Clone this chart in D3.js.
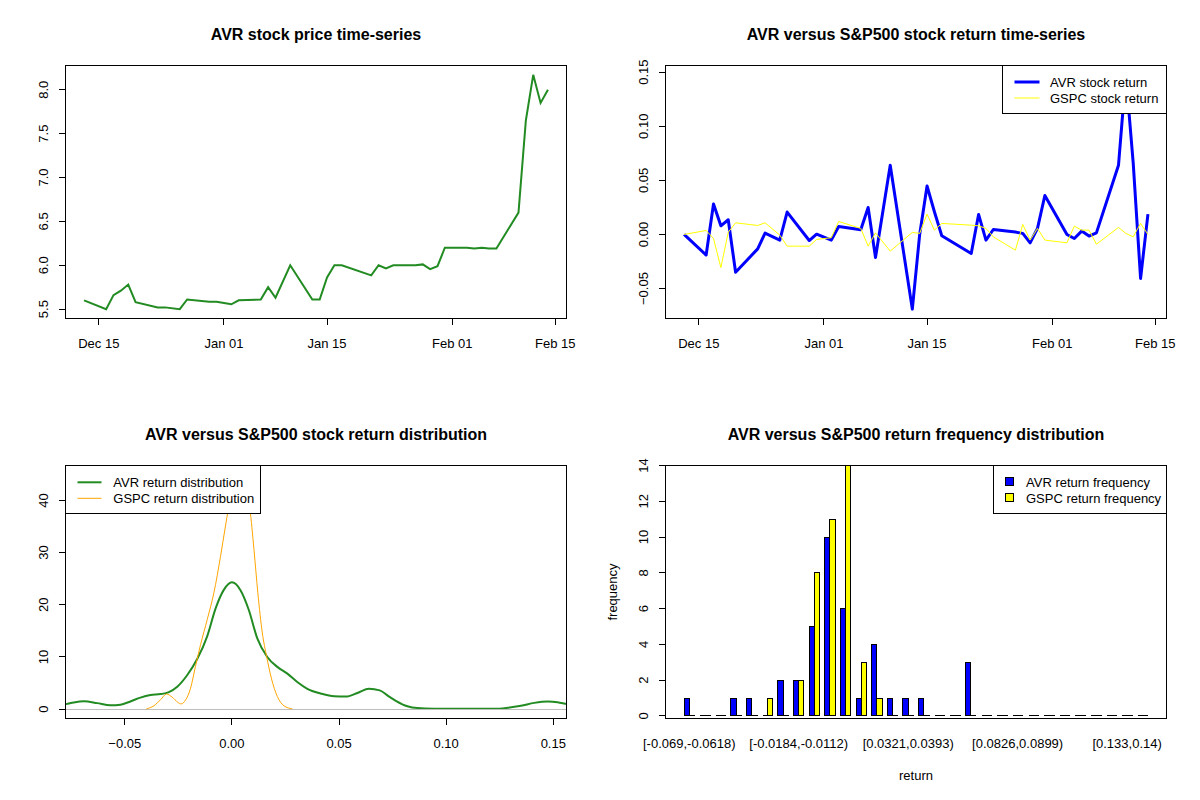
<!DOCTYPE html>
<html><head><meta charset="utf-8">
<script src="https://cdn.jsdelivr.net/npm/d3@7"></script>
<style>
body{margin:0;background:#fff;}
svg text{font-family:"Liberation Sans",Arial,Helvetica,sans-serif;fill:#000;}
</style></head><body>
<svg id="chart" width="1200" height="800"></svg>
<script>
// ---------- data ----------
const dates = ["2013-12-13","2013-12-16","2013-12-17","2013-12-18","2013-12-19","2013-12-20","2013-12-23","2013-12-24","2013-12-26","2013-12-27","2013-12-30","2013-12-31",
"2014-01-02","2014-01-03","2014-01-06","2014-01-07","2014-01-08","2014-01-10","2014-01-13","2014-01-14","2014-01-15","2014-01-16","2014-01-17","2014-01-21","2014-01-22","2014-01-23","2014-01-24","2014-01-27","2014-01-28","2014-01-29","2014-01-30","2014-01-31",
"2014-02-03","2014-02-04","2014-02-05","2014-02-06","2014-02-07","2014-02-10","2014-02-11","2014-02-12","2014-02-13","2014-02-14"];
const avrPrice = [5.60,5.50,5.66,5.71,5.78,5.58,5.52,5.52,5.50,5.61,5.585,5.585,
5.555,5.60,5.61,5.75,5.63,6.00,5.61,5.61,5.86,6.00,6.00,5.885,6.00,5.965,6.00,6.00,6.01,5.955,5.99,6.20,
6.20,6.19,6.20,6.19,6.19,6.60,7.65,8.17,7.85,8.00];
const avrReturn = [0.000,-0.019,0.0281,0.008,0.0136,-0.0349,-0.0133,0.0012,-0.0052,0.0207,-0.0056,0.0003,
-0.0052,0.0074,0.0043,0.025,-0.0213,0.0639,-0.069,0.000,0.0448,0.021,-0.0012,-0.0176,0.0185,-0.0052,0.0046,0.0022,0.001,-0.0077,0.0056,0.036,
0.000,-0.0037,0.0031,-0.0015,0.0015,0.0639,0.1475,0.066,-0.0407,0.0188];
const gspcReturn = [0.000,0.0037,-0.0037,-0.0306,0.002,0.0108,0.0083,0.0108,-0.0006,-0.0108,-0.0108,-0.0046,
-0.003,0.012,0.0056,-0.0108,0.0015,-0.0154,0.0019,0.001,0.0188,0.004,0.0102,0.0086,0.008,0.0056,-0.0022,-0.0145,0.0093,-0.0052,0.0056,-0.0052,
-0.0077,0.0077,0.004,0.004,-0.009,0.0065,0.001,-0.0022,0.0102,0.000];

const dateTickValues = ["2013-12-15","2014-01-01","2014-01-15","2014-02-01","2014-02-15"];
const dateTickLabels = ["Dec 15","Jan 01","Jan 15","Feb 01","Feb 15"];
const priceTicks = [5.5,6.0,6.5,7.0,7.5,8.0];
const returnTicks = [-0.05,0.00,0.05,0.10,0.15];

const avrDensX = [-0.080,-0.0774,-0.0738,-0.0690,-0.0629,-0.0567,-0.052,-0.0474,-0.0427,-0.038,-0.0333,-0.0294,-0.0255,-0.0209,-0.0162,-0.0115,-0.0076,-0.0037,0.0,0.004,0.0079,0.0118,0.0165,0.0212,0.0259,0.0305,0.0352,0.0414,0.0477,0.0531,0.0586,0.0640,0.0690,0.0730,0.0765,0.0819,0.0866,0.0944,0.1069,0.1224,0.1287,0.1349,0.1411,0.1474,0.152,0.1564,0.160];
const avrDensY = [0.8,0.96,1.28,1.5,1.15,0.72,0.85,1.47,2.2,2.69,2.88,3.27,4.3,6.5,9.6,14.0,19.3,22.9,24.3,22.8,19.0,13.6,10.0,8.1,6.8,5.2,3.9,3.0,2.45,2.4,3.1,3.9,3.6,2.5,1.6,0.55,0.2,0.08,0.05,0.05,0.26,0.64,1.2,1.47,1.34,0.96,0.75];
const gspcDensX = [-0.0399,-0.0364,-0.0333,-0.0305,-0.0279,-0.0252,-0.0237,-0.0217,-0.0193,-0.017,-0.0146,-0.0115,-0.0084,-0.0053,-0.003,-0.0017,0.0002,0.0025,0.0048,0.0084,0.0103,0.0121,0.0142,0.0162,0.0184,0.0212,0.0243,0.0282];
const gspcDensY = [0.05,0.64,1.8,2.9,2.3,1.3,1.0,1.7,4.0,8.2,12.4,17.2,22.3,29.3,35.1,38.3,42.5,44.9,43.5,38.3,30.6,22.3,14.6,10.1,5.95,2.43,0.64,0.05];
const densXTicks = [-0.05,0.00,0.05,0.10,0.15];
const densYTicks = [0,10,20,30,40];

const avrFreq  = [1,0,0,1,1,0,2,2,5,10,6,1,4,1,1,1,0,0,3,0,0,0,0,0,0,0,0,0,0,0];
const gspcFreq = [0,0,0,0,0,1,0,2,8,11,14,3,1,0,0,0,0,0,0,0,0,0,0,0,0,0,0,0,0,0];
const histTickBins = [0,7,14,21,28];
const histTickLabels = ["[-0.069,-0.0618)","[-0.0184,-0.0112)","[0.0321,0.0393)","[0.0826,0.0899)","[0.133,0.14)"];
const freqTicks = [0,2,4,6,8,10,12,14];

const titles = ["AVR stock price time-series","AVR versus S&P500 stock return time-series",
"AVR versus S&P500 stock return distribution","AVR versus S&P500 return frequency distribution"];

// ---------- helpers ----------
const svg = d3.select("#chart");
const parseDate = d3.utcParse("%Y-%m-%d");
const dateObjs = dates.map(parseDate);
function pad(e){const a=+e[0], b=+e[1], d=b-a; return [a-0.04*d, b+0.04*d];}
function frame(px,py){return {L:px+65.5,R:px+566.5,T:py+65.5,B:py+318.5};}
function snap(v){return Math.round(v-0.5)+0.5;}
let clipId=0;
function clip(f){
  const id="clip"+(clipId++);
  svg.append("clipPath").attr("id",id).append("rect")
    .attr("x",f.L).attr("y",f.T).attr("width",f.R-f.L).attr("height",f.B-f.T);
  return svg.append("g").attr("clip-path","url(#"+id+")");
}
function box(f){
  svg.append("rect").attr("x",f.L).attr("y",f.T).attr("width",f.R-f.L).attr("height",f.B-f.T)
    .attr("fill","none").attr("stroke","#000").attr("stroke-width",1).attr("shape-rendering","crispEdges");
}
function title(f,t){
  svg.append("text").attr("x",(f.L+f.R)/2).attr("y",f.T-25.5).attr("text-anchor","middle")
    .attr("font-size",16).attr("font-weight","bold").text(t);
}
function xTicks(f,pos,labels,ticks=true){
  pos.forEach((p,i)=>{
    if(ticks) svg.append("line").attr("x1",snap(p)).attr("x2",snap(p)).attr("y1",f.B).attr("y2",f.B+6.5)
      .attr("stroke","#000").attr("shape-rendering","crispEdges");
    svg.append("text").attr("x",p).attr("y",f.B+29.5).attr("text-anchor","middle").attr("font-size",13).text(labels[i]);
  });
}
function yTicks(f,pos,labels){
  pos.forEach((p,i)=>{
    svg.append("line").attr("x1",f.L).attr("x2",f.L-6.5).attr("y1",snap(p)).attr("y2",snap(p))
      .attr("stroke","#000").attr("shape-rendering","crispEdges");
    svg.append("text").attr("transform","translate("+(f.L-18)+","+p+") rotate(-90)")
      .attr("text-anchor","middle").attr("font-size",13).text(labels[i]);
  });
}
function legendBox(x,y,w,h){
  svg.append("rect").attr("x",x).attr("y",y).attr("width",w).attr("height",h)
    .attr("fill","#fff").attr("stroke","#000").attr("shape-rendering","crispEdges");
}

// ---------- panel 1: price ----------
{
  const f=frame(0,0);
  const x=d3.scaleUtc().domain(pad(d3.extent(dateObjs))).range([f.L,f.R]);
  const y=d3.scaleLinear().domain(pad(d3.extent(avrPrice))).range([f.B,f.T]);
  const g=clip(f);
  g.append("path").datum(avrPrice).attr("fill","none").attr("stroke","#228B22").attr("stroke-width",2)
    .attr("d",d3.line().x((d,i)=>x(dateObjs[i])).y(d=>y(d)));
  box(f); title(f,titles[0]);
  xTicks(f,dateTickValues.map(d=>x(parseDate(d))),dateTickLabels);
  yTicks(f,priceTicks.map(y),priceTicks.map(d3.format(".1f")));
}

// ---------- panel 2: returns ----------
{
  const f=frame(600,0);
  const x=d3.scaleUtc().domain(pad(d3.extent(dateObjs))).range([f.L,f.R]);
  const y=d3.scaleLinear().domain(pad(d3.extent(avrReturn.concat(gspcReturn)))).range([f.B,f.T]);
  const g=clip(f);
  const ln=d3.line().x((d,i)=>x(dateObjs[i])).y(d=>y(d));
  g.append("path").datum(avrReturn).attr("fill","none").attr("stroke","#0000FF").attr("stroke-width",3).attr("stroke-linejoin","round").attr("d",ln);
  g.append("path").datum(gspcReturn).attr("fill","none").attr("stroke","#FFFF00").attr("stroke-width",1).attr("d",ln);
  box(f); title(f,titles[1]);
  xTicks(f,dateTickValues.map(d=>x(parseDate(d))),dateTickLabels);
  yTicks(f,returnTicks.map(y),returnTicks.map(d3.format(".2f")));
  const lx=f.R-164, ly=f.T;
  legendBox(lx,ly,164,48);
  [["AVR stock return","#0000FF",3],["GSPC stock return","#FFFF00",1]].forEach((r,i)=>{
    const cy=ly+16.5+16*i;
    svg.append("line").attr("x1",lx+12).attr("x2",lx+37).attr("y1",cy).attr("y2",cy).attr("stroke",r[1]).attr("stroke-width",r[2]);
    svg.append("text").attr("x",lx+47.5).attr("y",cy+5).attr("font-size",13).text(r[0]);
  });
}

// ---------- panel 3: density ----------
{
  const f=frame(0,400);
  const x=d3.scaleLinear().domain(pad(d3.extent(avrReturn))).range([f.L,f.R]);
  const y=d3.scaleLinear().domain(pad([0,d3.max(gspcDensY)])).range([f.B,f.T]);
  const g=clip(f);
  g.append("path").datum(avrDensY).attr("fill","none").attr("stroke","#228B22").attr("stroke-width",2)
    .attr("d",d3.line().curve(d3.curveMonotoneX).x((d,i)=>x(avrDensX[i])).y(d=>y(d)));
  g.append("line").attr("x1",f.L).attr("x2",f.R).attr("y1",snap(y(0))).attr("y2",snap(y(0)))
    .attr("stroke","#BEBEBE").attr("stroke-width",1).attr("shape-rendering","crispEdges");
  g.append("path").datum(gspcDensY).attr("fill","none").attr("stroke","#FFA500").attr("stroke-width",1)
    .attr("d",d3.line().curve(d3.curveMonotoneX).x((d,i)=>x(gspcDensX[i])).y(d=>y(d)));
  box(f); title(f,titles[2]);
  xTicks(f,densXTicks.map(x),densXTicks.map(d3.format(".2f")));
  yTicks(f,densYTicks.map(y),densYTicks.map(String));
  const lx=f.L, ly=f.T;
  legendBox(lx,ly,195,48);
  [["AVR return distribution","#228B22",2],["GSPC return distribution","#FFA500",1]].forEach((r,i)=>{
    const cy=ly+16.8+16*i;
    svg.append("line").attr("x1",lx+12).attr("x2",lx+36).attr("y1",cy).attr("y2",cy).attr("stroke",r[1]).attr("stroke-width",r[2]);
    svg.append("text").attr("x",lx+47.8).attr("y",cy+5).attr("font-size",13).text(r[0]);
  });
}

// ---------- panel 4: histogram ----------
{
  const f=frame(600,400);
  const n=avrFreq.length;
  const x=d3.scaleLinear().domain(pad([1,3*n])).range([f.L,f.R]);
  const maxF=d3.max(avrFreq.concat(gspcFreq));
  const y=d3.scaleLinear().domain([-0.01*maxF,maxF]).range([f.B,f.T]);
  function bar(a,b,v,col){
    const x0=snap(x(a)), x1=snap(x(b)), y0=snap(y(0)), y1=snap(y(v));
    svg.append("path").attr("d","M"+x0+","+y0+"H"+x1+"V"+y1+"H"+x0+"Z")
      .attr("fill",col).attr("stroke","#000").attr("stroke-width",1).attr("shape-rendering","crispEdges");
  }
  avrFreq.forEach((v,i)=>{ bar(3*i+1,3*i+2,v,"#0000FF"); bar(3*i+2,3*i+3,gspcFreq[i],"#FFFF00"); });
  box(f); title(f,titles[3]);
  xTicks(f,histTickBins.map(i=>x(3*i+2)),histTickLabels,false);
  yTicks(f,freqTicks.map(y),freqTicks.map(String));
  svg.append("text").attr("x",(f.L+f.R)/2).attr("y",f.B+61.5).attr("text-anchor","middle").attr("font-size",13).text("return");
  svg.append("text").attr("transform","translate("+(f.L-48.5)+","+((f.T+f.B)/2)+") rotate(-90)")
    .attr("text-anchor","middle").attr("font-size",13).text("frequency");
  const lx=f.R-173, ly=f.T;
  legendBox(lx,ly,173,48);
  [["AVR return frequency","#0000FF"],["GSPC return frequency","#FFFF00"]].forEach((r,i)=>{
    const cy=ly+16.2+16*i;
    svg.append("rect").attr("x",lx+12).attr("y",snap(cy-4)).attr("width",8).attr("height",8)
      .attr("fill",r[1]).attr("stroke","#000").attr("shape-rendering","crispEdges");
    svg.append("text").attr("x",lx+32.5).attr("y",cy+5).attr("font-size",13).text(r[0]);
  });
}
</script>
</body></html>
